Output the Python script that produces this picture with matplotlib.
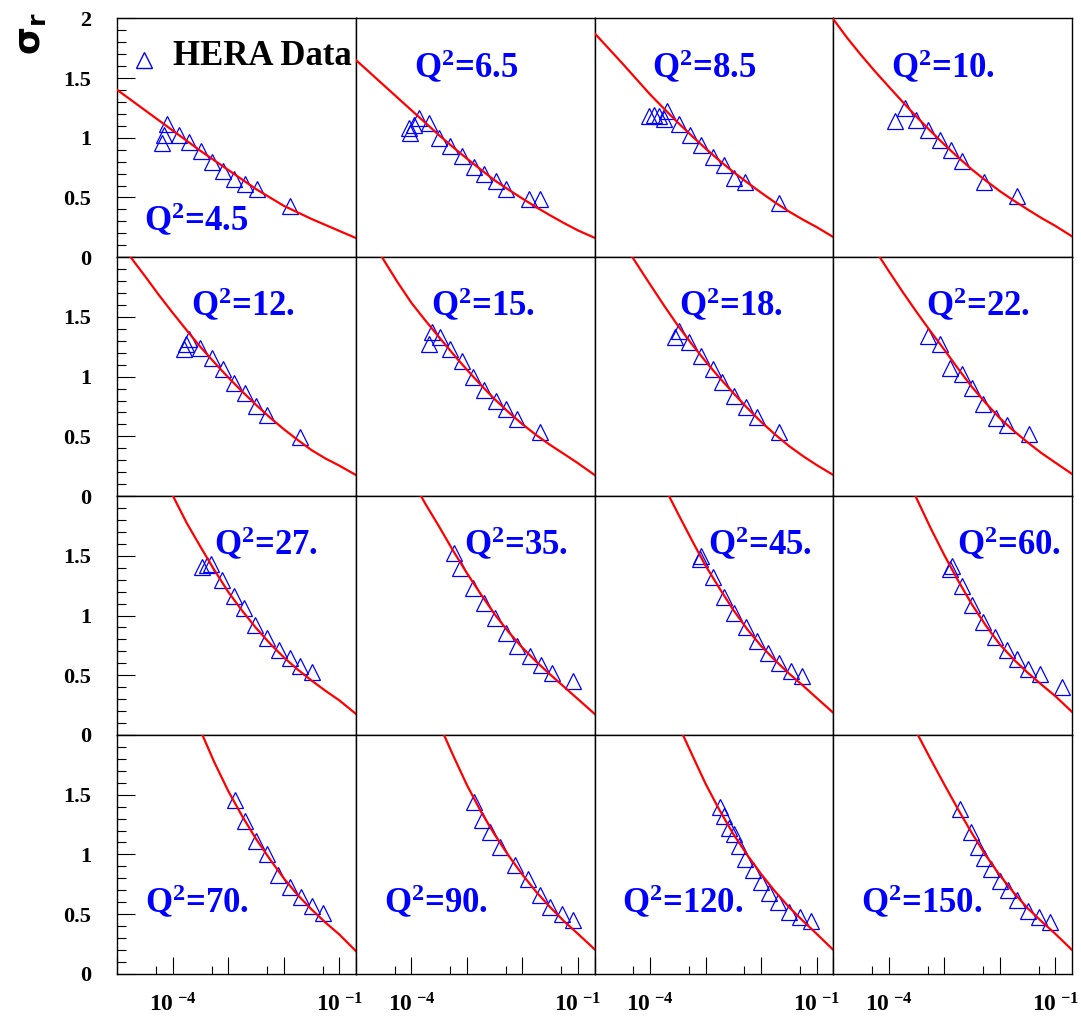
#---------------------------------------------imports----------------------------------------------------
import matplotlib
matplotlib.use('Agg')
import matplotlib.pyplot as plt
from matplotlib.ticker import FixedLocator, FixedFormatter, NullFormatter
import numpy as np

#---------------------------------------------fonts------------------------------------------------------
plt.rcParams['font.family'] = ['Liberation Serif', 'DejaVu Serif']
plt.rcParams['font.weight'] = 'bold'
plt.rcParams['mathtext.fontset'] = 'custom'
plt.rcParams['mathtext.rm'] = 'Liberation Serif:bold'
plt.rcParams['mathtext.bf'] = 'Liberation Serif:bold'
plt.rcParams['mathtext.it'] = 'Liberation Serif:bold:italic'

#---------------------------------------------data-------------------------------------------------------
q2_labels = ['4.5', '6.5', '8.5', '10.', '12.', '15.', '18.', '22.',
             '27.', '35.', '45.', '60.', '70.', '90.', '120.', '150.']

# HERA points, one list per panel
pts_x = [
    [7.98e-5, 6.95e-5, 6.31e-5, 1.30e-4, 1.96e-4, 3.19e-4, 5.18e-4, 8.18e-4, 1.27e-3, 2.01e-3, 3.27e-3, 1.31e-2],
    [8.9e-5, 1.35e-4, 2.05e-4, 9.5e-5, 1.1e-4, 3.1e-4, 5.0e-4, 8.2e-4, 1.33e-3, 2.0e-3, 3.3e-3, 4.95e-3, 1.3e-2, 2.1e-2],
    [9.5e-5, 1.18e-4, 1.45e-4, 2.05e-4, 1.78e-4, 3.33e-4, 5.25e-4, 8.18e-4, 1.33e-3, 2.1e-3, 3.27e-3, 5.16e-3, 2.06e-2],
    [1.31e-4, 1.99e-4, 3.15e-4, 5.11e-4, 8.29e-4, 1.33e-3, 2.04e-3, 5.16e-3, 2.06e-2],
    [1.57e-4, 1.94e-4, 1.76e-4, 3.15e-4, 5.11e-4, 8.07e-4, 1.29e-3, 1.99e-3, 3.22e-3, 5.02e-3, 2.0e-2],
    [2.35e-4, 3.24e-4, 2.05e-4, 4.9e-4, 8.2e-4, 1.29e-3, 2.01e-3, 3.27e-3, 4.95e-3, 8.0e-3, 2.06e-2],
    [2.78e-4, 3.33e-4, 5.04e-4, 8.18e-4, 1.33e-3, 2.01e-3, 3.27e-3, 5.3e-3, 8.4e-3, 2.06e-2],
    [5.11e-4, 8.29e-4, 1.29e-3, 2.04e-3, 3.18e-3, 5.02e-3, 8.4e-3, 1.36e-2, 3.35e-2],
    [3.37e-4, 4.15e-4, 4.9e-4, 7.74e-4, 1.26e-3, 1.9e-3, 3.09e-3, 5.02e-3, 8.15e-3, 1.29e-2, 2.0e-2, 3.26e-2],
    [5.78e-4, 7.63e-4, 1.29e-3, 2.01e-3, 3.18e-3, 4.95e-3, 8.0e-3, 1.36e-2, 2.12e-2, 3.35e-2, 8.2e-2],
    [8.18e-4, 7.96e-4, 1.33e-3, 2.1e-3, 3.27e-3, 5.3e-3, 8.26e-3, 1.31e-2, 2.06e-2, 3.44e-2, 5.36e-2],
    [1.35e-3, 1.26e-3, 2.04e-3, 3.18e-3, 5.02e-3, 8.15e-3, 1.32e-2, 2.06e-2, 3.26e-2, 5.2e-2, 0.134],
    [1.33e-3, 2.01e-3, 3.18e-3, 4.95e-3, 8.0e-3, 1.27e-2, 2.03e-2, 3.21e-2, 5.07e-2],
    [1.36e-3, 1.9e-3, 2.64e-3, 4.0e-3, 7.46e-3, 1.28e-2, 2.11e-2, 3.19e-2, 5.25e-2, 8.3e-2],
    [1.8e-3, 2.1e-3, 2.6e-3, 3.2e-3, 4.0e-3, 5.2e-3, 7.0e-3, 1.0e-2, 1.4e-2, 2.0e-2, 3.2e-2, 5.0e-2, 8.0e-2],
    [1.9e-3, 3.0e-3, 4.0e-3, 5.2e-3, 7.0e-3, 1.0e-2, 1.4e-2, 2.0e-2, 3.2e-2, 5.0e-2, 8.0e-2],
]
pts_y = [
    [1.111, 1.021, 0.954, 1.021, 0.965, 0.890, 0.797, 0.722, 0.657, 0.615, 0.568, 0.425],
    [1.083, 1.169, 1.122, 1.043, 1.11, 0.999, 0.929, 0.848, 0.753, 0.694, 0.638, 0.571, 0.484, 0.487],
    [1.183, 1.189, 1.183, 1.222, 1.161, 1.116, 1.027, 0.937, 0.842, 0.775, 0.663, 0.632, 0.450],
    [1.139, 1.250, 1.150, 1.066, 0.982, 0.895, 0.808, 0.632, 0.509],
    [1.231, 1.315, 1.276, 1.236, 1.155, 1.063, 0.943, 0.859, 0.758, 0.677, 0.492],
    [1.371, 1.334, 1.276, 1.228, 1.127, 0.999, 0.887, 0.800, 0.725, 0.646, 0.540],
    [1.332, 1.385, 1.287, 1.172, 1.060, 0.951, 0.839, 0.744, 0.666, 0.534],
    [1.343, 1.270, 1.069, 1.018, 0.906, 0.769, 0.657, 0.593, 0.518],
    [1.410, 1.424, 1.435, 1.298, 1.164, 1.060, 0.923, 0.809, 0.711, 0.641, 0.579, 0.529],
    [1.522, 1.396, 1.231, 1.108, 0.976, 0.851, 0.744, 0.660, 0.588, 0.515, 0.450],
    [1.499, 1.469, 1.320, 1.158, 1.018, 0.904, 0.783, 0.683, 0.602, 0.532, 0.490],
    [1.413, 1.388, 1.248, 1.091, 0.946, 0.823, 0.711, 0.632, 0.554, 0.509, 0.400],
    [1.457, 1.276, 1.108, 1.004, 0.828, 0.725, 0.641, 0.565, 0.512],
    [1.44, 1.29, 1.19, 1.06, 0.91, 0.79, 0.66, 0.56, 0.50, 0.45],
    [1.40, 1.32, 1.22, 1.17, 1.07, 0.96, 0.87, 0.77, 0.68, 0.60, 0.52, 0.48, 0.44],
    [1.38, 1.19, 1.06, 0.97, 0.88, 0.78, 0.70, 0.62, 0.53, 0.48, 0.43],
]

grid = [1e-5, 1.78e-5, 3.16e-5, 5.62e-5, 1e-4, 1.78e-4, 3.16e-4, 5.62e-4, 1e-3, 1.78e-3,
        3.16e-3, 5.62e-3, 1e-2, 1.78e-2, 3.16e-2, 5.62e-2, 0.1, 0.2]
fit_x = [
    grid,
    grid,
    grid,
    grid,
    [1.74e-5] + grid[2:],
    [2.94e-5] + grid[2:],
    [4.79e-5] + grid[3:],
    [6.86e-5] + grid[4:],
    [1.01e-4] + grid[5:],
    [1.49e-4] + grid[5:],
    [2.19e-4] + grid[6:],
    [3.02e-4] + grid[7:],
    [3.42e-4] + grid[7:],
    [3.86e-4] + grid[7:],
    [3.9e-4] + grid[7:],
    [3.34e-4] + grid[7:],
]
fit_y = [
    [1.40, 1.315, 1.23, 1.145, 1.06, 0.975, 0.89, 0.81, 0.73, 0.65, 0.57, 0.50, 0.43, 0.375, 0.32, 0.27, 0.22, 0.16],
    [1.65, 1.545, 1.44, 1.335, 1.23, 1.125, 1.02, 0.921, 0.825, 0.733, 0.643, 0.565, 0.49, 0.418, 0.35, 0.285, 0.224, 0.162],
    [1.874, 1.748, 1.622, 1.492, 1.362, 1.243, 1.127, 1.016, 0.909, 0.808, 0.713, 0.625, 0.540, 0.458, 0.383, 0.315, 0.252, 0.168],
    [1.992, 1.835, 1.692, 1.556, 1.427, 1.299, 1.175, 1.057, 0.943, 0.835, 0.733, 0.640, 0.553, 0.474, 0.400, 0.328, 0.262, 0.174],
    [2.0, 1.841, 1.683, 1.533, 1.388, 1.248, 1.118, 0.993, 0.875, 0.764, 0.658, 0.560, 0.470, 0.385, 0.315, 0.255, 0.176],
    [2.0, 1.977, 1.79, 1.617, 1.470, 1.329, 1.190, 1.057, 0.930, 0.811, 0.702, 0.601, 0.510, 0.428, 0.352, 0.275, 0.176],
    [2.0, 1.95, 1.771, 1.595, 1.427, 1.273, 1.127, 0.990, 0.862, 0.738, 0.621, 0.516, 0.420, 0.336, 0.260, 0.176],
    [2.0, 1.883, 1.708, 1.541, 1.380, 1.225, 1.065, 0.912, 0.777, 0.652, 0.546, 0.450, 0.360, 0.280, 0.185],
    [2.0, 1.775, 1.575, 1.380, 1.197, 1.040, 0.896, 0.766, 0.650, 0.548, 0.456, 0.370, 0.290, 0.176],
    [2.0, 1.935, 1.743, 1.543, 1.354, 1.178, 1.010, 0.862, 0.730, 0.613, 0.506, 0.403, 0.300, 0.176],
    [2.0, 1.855, 1.632, 1.416, 1.227, 1.046, 0.885, 0.745, 0.625, 0.515, 0.415, 0.310, 0.185],
    [2.0, 1.735, 1.505, 1.290, 1.091, 0.915, 0.758, 0.632, 0.522, 0.422, 0.325, 0.193],
    [2.0, 1.77, 1.53, 1.32, 1.13, 0.96, 0.80, 0.66, 0.54, 0.43, 0.33, 0.19],
    [2.0, 1.83, 1.58, 1.36, 1.165, 0.99, 0.83, 0.685, 0.558, 0.44, 0.335, 0.205],
    [2.0, 1.84, 1.59, 1.37, 1.17, 0.995, 0.835, 0.69, 0.56, 0.445, 0.335, 0.20],
    [2.0, 1.80, 1.585, 1.375, 1.175, 0.99, 0.825, 0.68, 0.55, 0.44, 0.335, 0.20],
]

#---------------------------------------------layout-----------------------------------------------------
# where each Q^2 label sits (axes fraction, left/baseline)
label_pos = [(0.112, 0.109), (0.243, 0.748), (0.242, 0.751), (0.240, 0.751),
             (0.309, 0.753), (0.313, 0.753), (0.354, 0.753), (0.387, 0.753),
             (0.404, 0.753), (0.453, 0.753), (0.475, 0.753), (0.516, 0.753),
             (0.116, 0.254), (0.119, 0.254), (0.115, 0.254), (0.115, 0.254)]

BLUE = '#0000ff'
RED = '#ff0000'

fig = plt.figure(figsize=(10.81, 10.16), dpi=100)
gs = fig.add_gridspec(4, 4, left=0.1085, right=0.9917, bottom=0.0415, top=0.982,
                      hspace=0, wspace=0)

xlabels = ['', r'$\mathbf{10}^{\ \mathbf{-4}}$', '', '', r'$\mathbf{10}^{\ \mathbf{-1}}$']

#---------------------------------------------plotting---------------------------------------------------
for i in range(16):
    row, col = divmod(i, 4)
    ax = fig.add_subplot(gs[row, col])
    ax.set_xscale('log')
    ax.set_xlim(1e-5, 0.2)
    ax.set_ylim(0, 2)

    ax.plot(pts_x[i], pts_y[i], linestyle='none', marker='^', ms=11.5,
            mfc='none', mec=BLUE, mew=0.9, zorder=2)
    ax.plot(fit_x[i], fit_y[i], color=RED, lw=1.6, zorder=3)

    ax.text(label_pos[i][0], label_pos[i][1], r'Q$^{\mathbf{2}}$=' + q2_labels[i], color=BLUE,
            fontsize=25, fontweight='bold', transform=ax.transAxes, va='baseline')

    for s in ax.spines.values():
        s.set_linewidth(1.0)

    # ticks only on outer edges
    ax.xaxis.set_major_locator(FixedLocator([1e-5, 1e-4, 1e-3, 1e-2, 1e-1]))
    ax.xaxis.set_minor_locator(FixedLocator([5e-5, 5e-4, 5e-3, 5e-2]))
    ax.yaxis.set_major_locator(FixedLocator([0, 0.5, 1, 1.5, 2]))
    ax.yaxis.set_minor_locator(FixedLocator(np.arange(0, 2.01, 0.1)))
    ax.xaxis.set_minor_formatter(NullFormatter())
    ax.yaxis.set_minor_formatter(NullFormatter())

    if row == 3:
        ax.xaxis.set_major_formatter(FixedFormatter(xlabels))
        ax.tick_params(axis='x', which='major', direction='in', length=12, width=0.8,
                       labelsize=17, pad=14, top=False, bottom=True)
        ax.tick_params(axis='x', which='minor', direction='in', length=6, width=0.8,
                       top=False, bottom=True)
    else:
        ax.tick_params(axis='x', which='both', bottom=False, top=False, labelbottom=False)

    if col == 0:
        ylab = ['0', '0.5', '1', '1.5', '2' if row == 0 else '']
        ax.yaxis.set_major_formatter(FixedFormatter(ylab))
        ax.tick_params(axis='y', which='major', direction='in', length=13, width=0.8,
                       labelsize=16, pad=19, left=True, right=False)
        ax.tick_params(axis='y', which='minor', direction='in', length=6.5, width=0.8,
                       left=True, right=False)
    else:
        ax.tick_params(axis='y', which='both', left=False, right=False, labelleft=False)

    if i == 0:
        ax.plot(0.112, 0.826, linestyle='none', marker='^', ms=12, mfc='none', mec=BLUE,
                mew=1.0, transform=ax.transAxes, clip_on=False)
        ax.text(0.234, 0.805, 'HERA Data', fontsize=25, fontweight='bold', color='black',
                transform=ax.transAxes, va='baseline')

fig.text(0.0287, 0.9665, r'$\mathrm{\sigma}_{\mathbf{r}}$', rotation=90, fontsize=26,
         ha='center', va='center', math_fontfamily='dejavusans')

#---------------------------------------------saving-----------------------------------------------------
fig.savefig('out.png', dpi=100)
